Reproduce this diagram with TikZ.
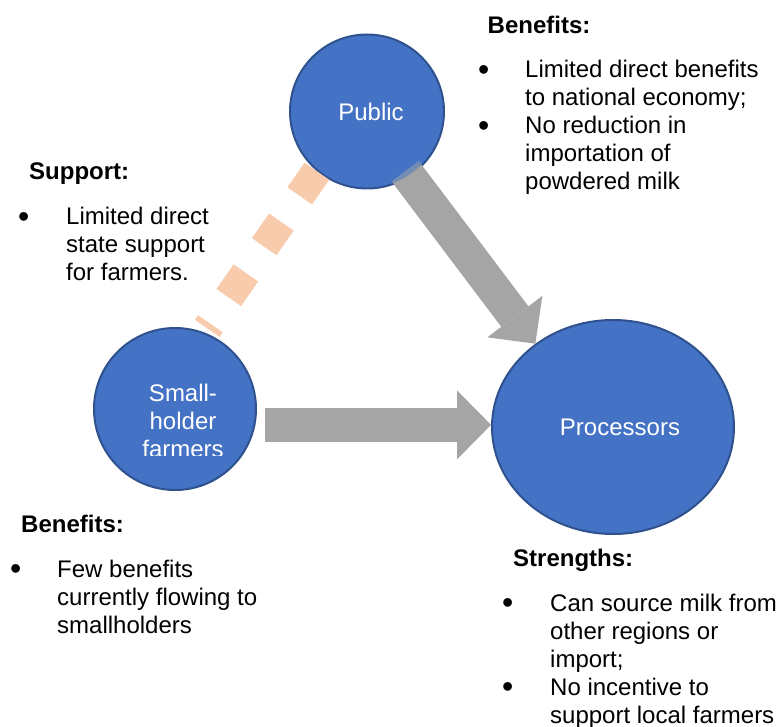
\documentclass[tikz,border=0pt]{standalone}
\usepackage{fontspec}
\setmainfont{Liberation Sans}
\usetikzlibrary{shapes.geometric,arrows.meta}

\definecolor{bubblefill}{HTML}{4472C4}
\definecolor{bubbleline}{HTML}{2F528F}
\definecolor{arrowgray}{HTML}{A5A5A5}
\definecolor{peach}{HTML}{F8CBAD}

\newcommand{\bfont}{\fontsize{24}{28}\selectfont}
\newcommand{\bul}{\raisebox{-2.5pt}{\fontsize{32}{28}\selectfont\textbullet}}

\tikzset{
  bubble/.style={circle, fill=bubblefill, draw=bubbleline, line width=2pt, inner sep=0pt},
  bigarrow/.style={draw=arrowgray, line width=34pt, -{Triangle[length=34pt,width=69pt,line width=0pt]}},
  supportline/.style={draw=peach, line width=30pt, dash pattern=on 30pt off 32pt},
  head/.style={anchor=base west, inner sep=0pt, font=\bfont\bfseries},
  blist/.style={anchor=base west, inner sep=0pt},
}

\begin{document}
\begin{tikzpicture}[x=1pt, y=-1pt, every node/.style={font=\bfont}]
\useasboundingbox (0,0) rectangle (777,727);

% the three actors
\node[bubble, minimum size=154pt, label={[xshift=4pt,text=white]center:Public}] (public) at (367,111.5) {};
\node[bubble, minimum size=162pt] (small) at (175,409) {};
\node[bubble, ellipse, minimum width=242pt, minimum height=214pt, label={[xshift=7pt,text=white]center:Processors}] (processors) at (613,427) {};

% name of the smallholders, cut at the bottom
\begin{scope}
  \clip (0,0) rectangle (777,455);
  \node[anchor=base, inner sep=0pt, text=white] (smalltext) at (183,402)
    {\begin{tabular}[t]{@{}c@{}}Small-\\holder\\farmers\end{tabular}};
\end{scope}

% links
\draw[supportline, shorten >=5pt] (public.230) -- (small.69);
\draw[bigarrow, shorten <=-7pt] (public.303) -- (processors.133);
\draw[bigarrow, shorten <=8pt] (small.east |- processors.179) -- (processors.179);

% where the arrow lies on the public circle
\begin{scope}
  \clip (public.center) circle (76pt);
  \draw[bigarrow, draw=bubblefill, opacity=.5, shorten <=-7pt] (public.303) -- (processors.133);
\end{scope}

% public benefits
\node[head] (pubhead) at (487.5,34) {Benefits:};
\node[blist] (publist) at (478,78) {\begin{tabular}[t]{@{}p{47pt}@{}l@{}}
\bul & Limited direct benefits\\
 & to national economy;\\
\bul & No reduction in\\
 & importation of\\
 & powdered milk
\end{tabular}};

% state support
\node[head] (suphead) at (29,180) {Support:};
\node[blist] (suplist) at (18,225) {\begin{tabular}[t]{@{}p{48pt}@{}l@{}}
\bul & Limited direct\\
 & state support\\
 & for farmers.
\end{tabular}};

% smallholder benefits
\node[head] (smallhead) at (21,532) {Benefits:};
\node[blist] (smalllist) at (10,577) {\begin{tabular}[t]{@{}p{47pt}@{}l@{}}
\bul & Few benefits\\
 & currently flowing to\\
 & smallholders
\end{tabular}};

% processor strengths
\node[head] (prochead) at (513,566) {Strengths:};
\node[blist] (proclist) at (502,611) {\begin{tabular}[t]{@{}p{48pt}@{}l@{}}
\bul & Can source milk from\\
 & other regions or\\
 & import;\\
\bul & No incentive to\\
 & support local farmers
\end{tabular}};

\end{tikzpicture}
\end{document}
